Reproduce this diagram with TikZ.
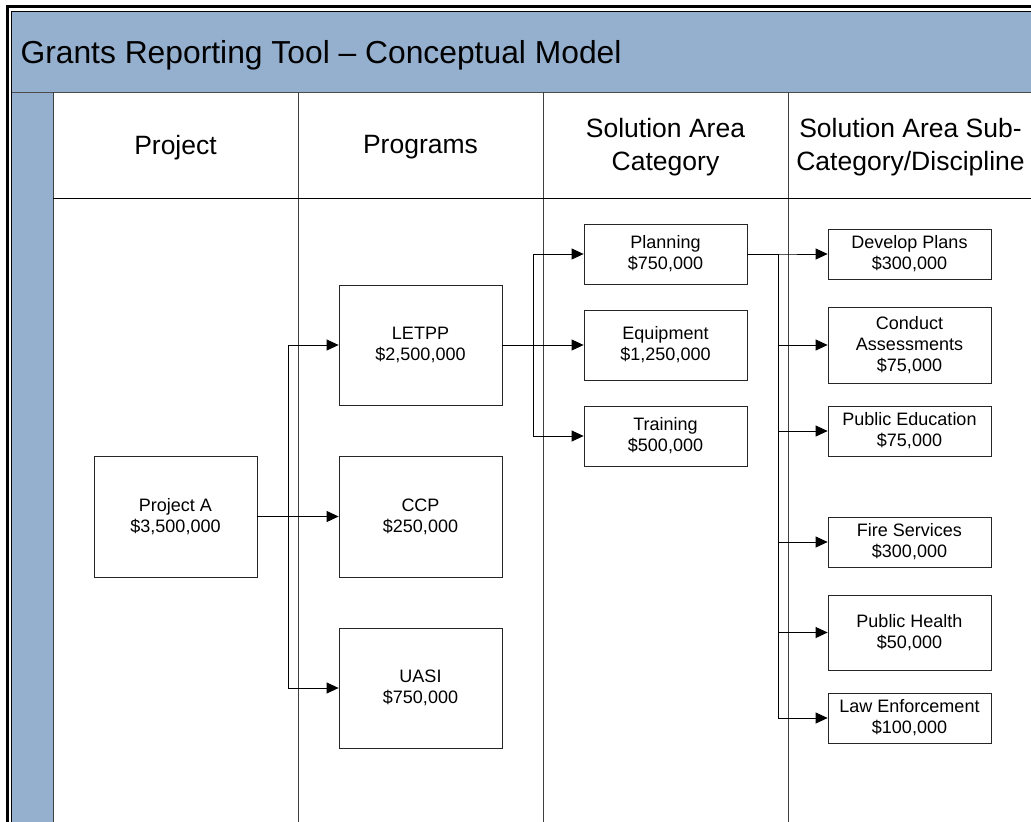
\documentclass[tikz,border=0pt]{standalone}
\usepackage{fontspec}
\setmainfont{Liberation Sans}
\usetikzlibrary{arrows.meta,positioning}
\definecolor{lanefill}{RGB}{149,176,207}

\begin{document}
\begin{tikzpicture}[x=1pt,y=-1pt,
    box/.style={draw=black!85, fill=white, line width=0.8pt, minimum width=163pt,
      align=center, inner sep=0pt, font=\fontsize{18}{21}\selectfont},
    lanehead/.style={align=center, font=\fontsize{26.5}{33}\selectfont},
    link/.style={line width=0.8pt, -{Triangle[length=12pt,width=11pt]}}]
    \useasboundingbox (0,0) rectangle (1031,822);
    \clip (0,0) rectangle (1031,822);

    \fill[lanefill] (12,12) rectangle (1031,92);
    \fill[lanefill] (12,92) rectangle (53,822);
    \draw[line width=3pt] (7.5,822) -- (7.5,6) -- (1031,6);
    \draw[line width=0.8pt] (11.5,822) -- (11.5,11.5) -- (1031,11.5);
    \draw[black!70, line width=0.8pt] (12,92) -- (1031,92);
    \foreach \x in {53,298,543,788}
      \draw[black!75, line width=0.8pt] (\x,92) -- (\x,822);
    \draw[line width=0.8pt] (53,198) -- (1031,198);

    \node[anchor=base west, font=\fontsize{31.8}{38}\selectfont] (title) at (17,63)
      {Grants Reporting Tool \textendash{} Conceptual Model};

    \node[lanehead] (hproj) at (175.5,147.5) {Project};
    \node[lanehead] (hprog) at (420.5,147.5) {Programs};
    \node[lanehead] (hcat) at (665.5,147) {Solution Area\\Category};
    \node[lanehead] (hsub) at (910.5,147) {Solution Area Sub-\\Category/Discipline};

    \node[box, minimum height=121pt] (prja) at (175.5,516.5) {Project A\\\$3,500,000};

    \node[box, minimum height=120pt] (letpp) at (420.5,345) {LETPP\\\$2,500,000};
    \node[box, minimum height=121pt] (ccp) at (420.5,516.5) {CCP\\\$250,000};
    \node[box, minimum height=120pt] (uasi) at (420.5,688) {UASI\\\$750,000};

    \node[box, minimum height=60pt] (plan) at (665.5,254) {Planning\\\$750,000};
    \node[box, minimum height=70pt] (equip) at (665.5,345) {Equipment\\\$1,250,000};
    \node[box, minimum height=60pt] (train) at (665.5,436) {Training\\\$500,000};

    \node[box, minimum height=50pt] (devplan) at (909.5,254) {Develop Plans\\\$300,000};
    \node[box, minimum height=76pt] (assess) at (909.5,345) {Conduct\\Assessments\\\$75,000};
    \node[box, minimum height=50pt] (pubedu) at (909.5,431) {Public Education\\\$75,000};
    \node[box, minimum height=50pt] (fire) at (909.5,542) {Fire Services\\\$300,000};
    \node[box, minimum height=75pt] (health) at (909.5,632.5) {Public Health\\\$50,000};
    \node[box, minimum height=50pt] (law) at (909.5,718) {Law Enforcement\\\$100,000};

    \draw[link] (prja.east) -- ++(31,0) |- (letpp);
    \draw[link] (prja.east) -- (ccp.west);
    \draw[link] (prja.east) -- ++(31,0) |- (uasi);

    \draw[link] (letpp.east) -- ++(31,0) |- (plan);
    \draw[link] (letpp.east) -- (equip.west);
    \draw[link] (letpp.east) -- ++(31,0) |- (train);

    \foreach \sub in {devplan,assess,pubedu,fire,health,law}
      \draw[link] (plan.east) -- ++(31,0) |- (\sub);
\end{tikzpicture}
\end{document}
